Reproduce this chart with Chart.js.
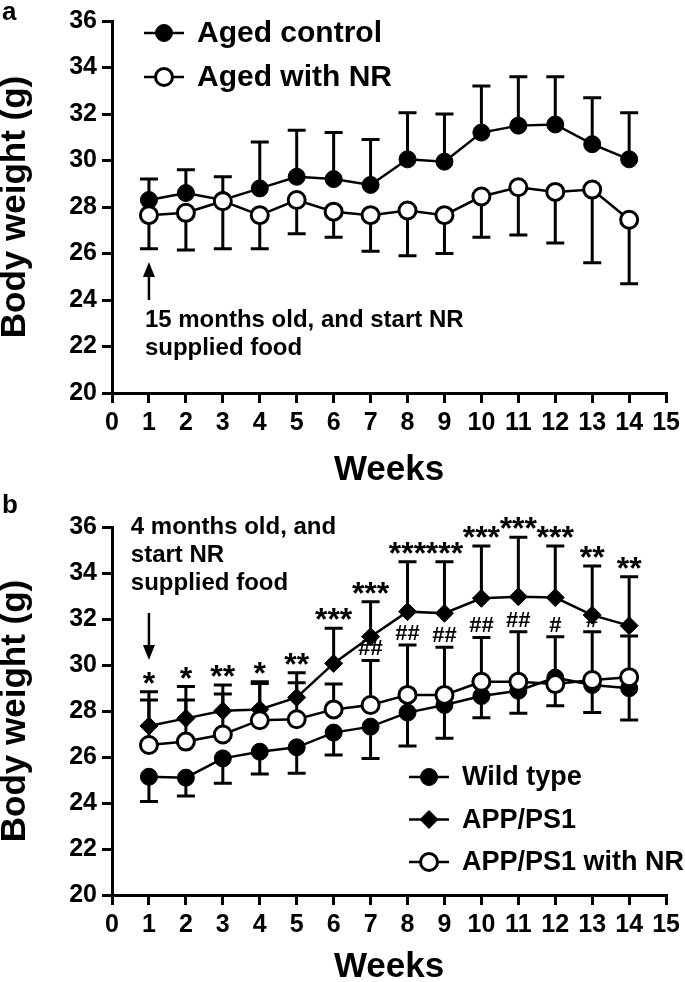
<!DOCTYPE html>
<html>
<head>
<meta charset="utf-8">
<script src="https://cdn.jsdelivr.net/npm/chart.js@4.4.1/dist/chart.umd.min.js"></script>
<style>
  html, body { margin: 0; padding: 0; background: #fff; overflow: hidden; }
  #wrap { position: relative; width: 685px; height: 982px; }
  .panel { position: absolute; left: 0; width: 685px; }
  #panelA { top: 0; height: 490px; }
  #panelB { top: 490px; height: 492px; }
</style>
</head>
<body>
<div id="wrap">
  <div class="panel" id="panelA"><canvas id="chartA" width="685" height="490"></canvas></div>
  <div class="panel" id="panelB"><canvas id="chartB" width="685" height="492"></canvas></div>
</div>
<script>
'use strict';

const FONT = "'Liberation Sans', Arial, Helvetica, sans-serif";

/* Shared axes */
const weeks = [1, 2, 3, 4, 5, 6, 7, 8, 9, 10, 11, 12, 13, 14];
const xTickValues = [0, 1, 2, 3, 4, 5, 6, 7, 8, 9, 10, 11, 12, 13, 14, 15];
const yTickValues = [20, 22, 24, 26, 28, 30, 32, 34, 36];

/* Panel a: aged mice (mean, one-sided SD bound) */
const agedControl = [28.3, 28.6, 28.3, 28.8, 29.3, 29.2, 28.95, 30.05, 29.95, 31.2, 31.5, 31.55, 30.7, 30.05];
const agedControlUpper = [29.2, 29.6, 29.3, 30.8, 31.3, 31.2, 30.9, 32.05, 32.0, 33.2, 33.6, 33.6, 32.7, 32.05];
const agedNR = [27.65, 27.75, 28.25, 27.65, 28.3, 27.8, 27.65, 27.85, 27.65, 28.45, 28.85, 28.65, 28.75, 27.45];
const agedNRLower = [26.2, 26.15, 26.2, 26.2, 26.85, 26.7, 26.1, 25.9, 26.0, 26.7, 26.8, 26.45, 25.6, 24.7];

/* Panel b: APP/PS1 mice */
const wildType = [25.14, 25.1, 25.94, 26.23, 26.42, 27.06, 27.32, 27.93, 28.26, 28.65, 28.88, 29.45, 29.13, 28.99];
const wildTypeLower = [24.06, 24.3, 24.86, 25.26, 25.29, 26.09, 25.94, 26.48, 26.81, 27.71, 27.9, 28.23, 27.93, 27.61];
const appPs1 = [27.35, 27.68, 28.01, 28.07, 28.59, 30.07, 31.23, 32.32, 32.25, 32.9, 32.97, 32.93, 32.17, 31.71];
const appPs1Upper = [28.84, 29.06, 29.13, 29.27, 29.66, 31.6, 32.75, 34.49, 34.49, 35.17, 35.55, 35.17, 34.3, 33.84];
const appPs1NR = [26.52, 26.67, 26.98, 27.6, 27.64, 28.07, 28.26, 28.7, 28.7, 29.27, 29.27, 29.17, 29.35, 29.47];
const appPs1NRUpper = [28.48, 28.48, 28.74, 29.2, 29.23, 29.17, 30.2, 30.87, 30.77, 31.2, 31.45, 31.23, 31.45, 31.26];

/* Significance marks */
const starLabels = ['*', '*', '**', '*', '**', '***', '***', '***', '***', '***', '***', '***', '**', '**'];
const hashLabels = ['', '', '', '', '', '', '##', '##', '##', '##', '##', '#', '#', ''];

function toPoints(values) {
  return weeks.map((w, i) => ({ x: w, y: values[i] }));
}

function series(label, values, bounds, marker, order) {
  const open = marker === 'open';
  return {
    label,
    data: toPoints(values),
    errorBounds: bounds,
    marker,
    order,
    borderColor: '#000',
    borderWidth: 2.5,
    pointStyle: marker === 'diamond' ? 'rectRot' : 'circle',
    pointRadius: marker === 'diamond' ? 9 : 8.5,
    pointBackgroundColor: open ? '#fff' : '#000',
    pointBorderColor: '#000',
    pointBorderWidth: open ? 3 : 1,
    tension: 0,
    fill: false
  };
}

/* Error bars drawn behind the lines and markers */
const errorBarPlugin = {
  id: 'errorBars',
  beforeDatasetsDraw(chart) {
    const { ctx, scales: { x, y } } = chart;
    ctx.save();
    ctx.strokeStyle = '#000';
    ctx.lineWidth = 3;
    chart.data.datasets.forEach(ds => {
      if (!ds.errorBounds) return;
      ds.data.forEach((pt, i) => {
        const px = x.getPixelForValue(pt.x);
        const py = y.getPixelForValue(pt.y);
        const pe = y.getPixelForValue(ds.errorBounds[i]);
        ctx.beginPath();
        ctx.moveTo(px, py);
        ctx.lineTo(px, pe);
        ctx.moveTo(px - 9, pe);
        ctx.lineTo(px + 9, pe);
        ctx.stroke();
      });
    });
    ctx.restore();
  }
};

function drawMarker(ctx, marker, x, y) {
  ctx.beginPath();
  if (marker === 'diamond') {
    const r = 9;
    ctx.moveTo(x, y - r);
    ctx.lineTo(x + r, y);
    ctx.lineTo(x, y + r);
    ctx.lineTo(x - r, y);
    ctx.closePath();
  } else {
    ctx.arc(x, y, 8.5, 0, Math.PI * 2);
  }
  ctx.fillStyle = marker === 'open' ? '#fff' : '#000';
  ctx.fill();
  ctx.lineWidth = marker === 'open' ? 3 : 1;
  ctx.stroke();
}

/* Panel letter, note, arrow, legend and significance marks */
const notesPlugin = {
  id: 'panelNotes',
  afterDraw(chart, args, o) {
    const ctx = chart.ctx;
    const xs = chart.scales.x;
    const ys = chart.scales.y;
    ctx.save();
    ctx.fillStyle = '#000';
    ctx.strokeStyle = '#000';

    // panel letter
    ctx.font = `bold 26px ${FONT}`;
    ctx.textAlign = 'left';
    ctx.textBaseline = 'alphabetic';
    ctx.fillText(o.letter, 2, o.letterBaseline);

    // note text
    ctx.font = `bold 24px ${FONT}`;
    ctx.textBaseline = 'middle';
    const nx = xs.getPixelForValue(o.note.x);
    const ny = ys.getPixelForValue(o.note.y);
    o.note.lines.forEach((t, i) => ctx.fillText(t, nx, ny + i * 28));

    // arrow
    const ax = xs.getPixelForValue(o.arrow.x);
    const a0 = ys.getPixelForValue(o.arrow.from);
    const a1 = ys.getPixelForValue(o.arrow.to);
    const dir = Math.sign(a1 - a0);
    ctx.lineWidth = 2.5;
    ctx.beginPath();
    ctx.moveTo(ax, a0);
    ctx.lineTo(ax, a1 - dir * 10);
    ctx.stroke();
    ctx.beginPath();
    ctx.moveTo(ax, a1);
    ctx.lineTo(ax - 6, a1 - dir * 15);
    ctx.lineTo(ax + 6, a1 - dir * 15);
    ctx.closePath();
    ctx.fill();

    // legend
    const lg = o.legend;
    ctx.font = `bold ${lg.size}px ${FONT}`;
    chart.data.datasets.forEach((ds, i) => {
      const ly = lg.y + i * lg.dy;
      ctx.strokeStyle = '#000';
      ctx.lineWidth = 2.5;
      ctx.beginPath();
      ctx.moveTo(lg.x, ly);
      ctx.lineTo(lg.x + 40, ly);
      ctx.stroke();
      drawMarker(ctx, ds.marker, lg.x + 20, ly);
      ctx.fillStyle = '#000';
      ctx.textAlign = 'left';
      ctx.textBaseline = 'middle';
      ctx.fillText(ds.label, lg.x + 53, ly + 1);
    });

    // significance marks
    (o.marks || []).forEach(m => {
      ctx.font = `bold ${m.size}px ${FONT}`;
      ctx.textAlign = 'center';
      ctx.textBaseline = 'alphabetic';
      ctx.fillStyle = '#000';
      m.labels.forEach((t, i) => {
        if (!t) return;
        ctx.fillText(t, xs.getPixelForValue(weeks[i]), ys.getPixelForValue(m.ref[i]) + m.shift);
      });
    });
    ctx.restore();
  }
};

function scalesConfig(xHeight, titlePad) {
  const tickFont = { family: FONT, size: 25, weight: 'bold' };
  const titleFont = { family: FONT, size: 35, weight: 'bold', lineHeight: 0.86 };
  const grid = { drawOnChartArea: false, drawTicks: true, tickLength: 10, lineWidth: 3, color: '#000' };
  const border = { display: true, color: '#000', width: 3 };
  return {
    x: {
      type: 'linear',
      min: 0,
      max: 15,
      afterBuildTicks: s => { s.ticks = xTickValues.map(v => ({ value: v })); },
      afterFit: s => { s.height = xHeight; },
      grid,
      border,
      ticks: { autoSkip: false, maxRotation: 0, padding: 5, color: '#000', font: tickFont },
      title: { display: true, text: 'Weeks', color: '#000', font: titleFont, padding: { top: 0, bottom: titlePad } }
    },
    y: {
      type: 'linear',
      min: 20,
      max: 36,
      afterBuildTicks: s => { s.ticks = yTickValues.map(v => ({ value: v })); },
      afterFit: s => { s.width = 112; },
      grid,
      border,
      ticks: { padding: 5, color: '#000', font: tickFont },
      title: { display: true, text: 'Body weight (g)', color: '#000', font: titleFont, padding: { top: 0, bottom: 0 } }
    }
  };
}

function baseOptions(topPad, xHeight, titlePad, notes) {
  return {
    responsive: false,
    animation: false,
    events: [],
    layout: { padding: { top: topPad, right: 16, left: 0, bottom: 0 } },
    scales: scalesConfig(xHeight, titlePad),
    plugins: {
      legend: { display: false },
      tooltip: { enabled: false },
      panelNotes: notes
    }
  };
}

/* Panel a */
new Chart(document.getElementById('chartA'), {
  type: 'line',
  data: {
    datasets: [
      series('Aged control', agedControl, agedControlUpper, 'filled', 1),
      series('Aged with NR', agedNR, agedNRLower, 'open', 0)
    ]
  },
  options: baseOptions(21, 97, 5, {
    letter: 'a',
    letterBaseline: 20,
    note: { x: 0.89, y: 23.14, lines: ['15 months old, and start NR', 'supplied food'] },
    arrow: { x: 1, from: 24.0, to: 25.63 },
    legend: { x: 144, y: 33, dy: 44, size: 30 }
  }),
  plugins: [errorBarPlugin, notesPlugin]
});

/* Panel b */
new Chart(document.getElementById('chartB'), {
  type: 'line',
  data: {
    datasets: [
      series('Wild type', wildType, wildTypeLower, 'filled', 2),
      series('APP/PS1', appPs1, appPs1Upper, 'diamond', 1),
      series('APP/PS1 with NR', appPs1NR, appPs1NRUpper, 'open', 0)
    ]
  },
  options: baseOptions(37, 87, 0, {
    letter: 'b',
    letterBaseline: 23,
    note: { x: 0.51, y: 36.0, lines: ['4 months old, and', 'start NR', 'supplied food'] },
    arrow: { x: 1, from: 32.26, to: 30.22 },
    legend: { x: 409, y: 287, dy: 42.5, size: 27 },
    marks: [
      { labels: starLabels, ref: appPs1Upper, size: 32, shift: 2 },
      { labels: hashLabels, ref: appPs1NRUpper, size: 22, shift: -5 }
    ]
  }),
  plugins: [errorBarPlugin, notesPlugin]
});
</script>
</body>
</html>
